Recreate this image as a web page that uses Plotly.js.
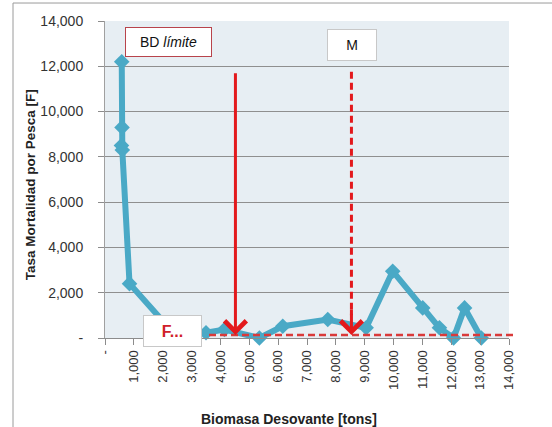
<!DOCTYPE html>
<html>
<head>
<meta charset="utf-8">
<script src="https://cdn.plot.ly/plotly-3.0.1.min.js"></script>
<style>html,body{margin:0;padding:0;background:#fff;}#chart{width:552px;height:427px;}</style>
</head>
<body>
<div id="chart"></div>
<script>
// Data
var biomasa = [580, 590, 570, 600, 850, 2350, 3500, 4140, 5350, 6160, 7720, 9050, 9970, 11010, 11590, 12080, 12460, 13040];
var mortalidad = [12200, 9300, 8500, 8300, 2400, 250, 230, 375, 0, 520, 815, 450, 2950, 1330, 450, 0, 1330, 0];

var xTickVals = [0,1000,2000,3000,4000,5000,6000,7000,8000,9000,10000,11000,12000,13000,14000];
var xTickText = ["-","1,000","2,000","3,000","4,000","5,000","6,000","7,000","8,000","9,000","10,000","11,000","12,000","13,000","14,000"];
var yTickVals = [0,2000,4000,6000,8000,10000,12000,14000];
var yTickText = ["-","2,000","4,000","6,000","8,000","10,000","12,000","14,000"];

var bdLimite = 4520;     // biomass limit reference (solid arrow)
var mRef = 8540;         // M reference (dashed arrow)
var arrowTop = 11760;    // where both reference arrows start
var fLimite = 130;       // horizontal F reference

var labelBD = "BD <i>límite</i>";
var labelM = "M";
var labelF = "<b>F...</b>";
var xTitle = "Biomasa Desovante [tons]";
var yTitle = "Tasa Mortalidad por Pesca [F]";

var red = "#e3191c";
var W = 404, H = 317.5, L = 105, T = 21;
function px(x){ return (x - L) / W; }
function py(y){ return (T + H - y) / H; }

var traces = [
  {
    x: biomasa, y: mortalidad, type: "scatter", mode: "lines+markers",
    line: {color: "#4aa9c6", width: 6},
    marker: {symbol: "diamond", size: 12, color: "#4aa9c6"},
    cliponaxis: false, hoverinfo: "skip", showlegend: false
  },
  {
    x: [mRef, mRef], y: [arrowTop, 1000], type: "scatter", mode: "lines",
    line: {color: red, width: 3, dash: "7px,4px"},
    hoverinfo: "skip", showlegend: false
  }
];

var layout = {
  width: 552, height: 427,
  margin: {l: L, r: 552 - L - W, t: T, b: 427 - T - H, pad: 0},
  paper_bgcolor: "#ffffff",
  plot_bgcolor: "#e7eef3",
  font: {family: "Liberation Sans, Arial, sans-serif", color: "#333333"},
  showlegend: false,
  xaxis: {
    range: [0, 14000], tickvals: xTickVals, ticktext: xTickText,
    tickangle: -90, tickfont: {size: 13, color: "#333"},
    showgrid: false, zeroline: false,
    showline: true, linecolor: "#8c8c8c", linewidth: 1,
    ticks: "outside", ticklen: 6, tickcolor: "#8c8c8c"
  },
  yaxis: {
    range: [0, 14000], tickvals: yTickVals, ticktext: yTickText,
    tickfont: {size: 14, color: "#333"},
    showgrid: true, gridcolor: "#8f8f8f", gridwidth: 1, zeroline: false,
    showline: true, linecolor: "#a0a0a0", linewidth: 1,
    ticks: "outside", ticklen: 6, tickcolor: "#8c8c8c",
    ticklabelstandoff: 12
  },
  shapes: [
    {type: "rect", xref: "paper", yref: "paper",
     x0: px(13), x1: px(600), y0: py(480), y1: py(3),
     line: {color: "#9a9a9a", width: 1}, fillcolor: "rgba(0,0,0,0)", layer: "below"},
    {type: "line", xref: "paper", yref: "y",
     x0: px(209), x1: px(517), y0: fLimite, y1: fLimite,
     line: {color: "#d93a3a", width: 2.5, dash: "7px,4px"}, layer: "above"}
  ],
  annotations: [
    {x: bdLimite, y: fLimite, ax: bdLimite, ay: arrowTop, xref: "x", yref: "y", axref: "x", ayref: "y",
     text: "", showarrow: true, arrowhead: 4, arrowsize: 1.4, arrowwidth: 3, arrowcolor: red},
    {x: mRef, y: fLimite, ax: mRef, ay: 1300, xref: "x", yref: "y", axref: "x", ayref: "y",
     text: "", showarrow: true, arrowhead: 4, arrowsize: 1.4, arrowwidth: 3, arrowcolor: red},
    {x: px(168.3), y: py(41.7), xref: "paper", yref: "paper", xanchor: "center", yanchor: "middle",
     text: labelBD, showarrow: false,
     width: 85, height: 28, bgcolor: "#ffffff", bordercolor: "#b8434b", borderwidth: 1, borderpad: 0,
     font: {size: 14, color: "#111"}},
    {x: px(351.7), y: py(45.2), xref: "paper", yref: "paper", xanchor: "center", yanchor: "middle",
     text: labelM, showarrow: false,
     width: 48, height: 30, bgcolor: "#ffffff", bordercolor: "#c8c8c8", borderwidth: 1, borderpad: 0,
     font: {size: 14, color: "#111"}},
    {x: px(172.5), y: py(331), xref: "paper", yref: "paper", xanchor: "center", yanchor: "middle",
     text: labelF, showarrow: false,
     width: 57, height: 30, bgcolor: "#ffffff", bordercolor: "#c8c8c8", borderwidth: 1, borderpad: 0,
     font: {size: 16, color: "#d0202a"}},
    {x: px(289), y: py(420), xref: "paper", yref: "paper", xanchor: "center", yanchor: "middle",
     text: "<b>" + xTitle + "</b>", showarrow: false,
     font: {size: 14, color: "#222"}},
    {x: px(30), y: py(185.5), xref: "paper", yref: "paper", xanchor: "center", yanchor: "middle",
     text: "<b>" + yTitle + "</b>", showarrow: false,
     textangle: -90, font: {size: 13.5, color: "#222"}}
  ]
};

Plotly.newPlot("chart", traces, layout, {displayModeBar: false, staticPlot: true});
</script>
</body>
</html>
